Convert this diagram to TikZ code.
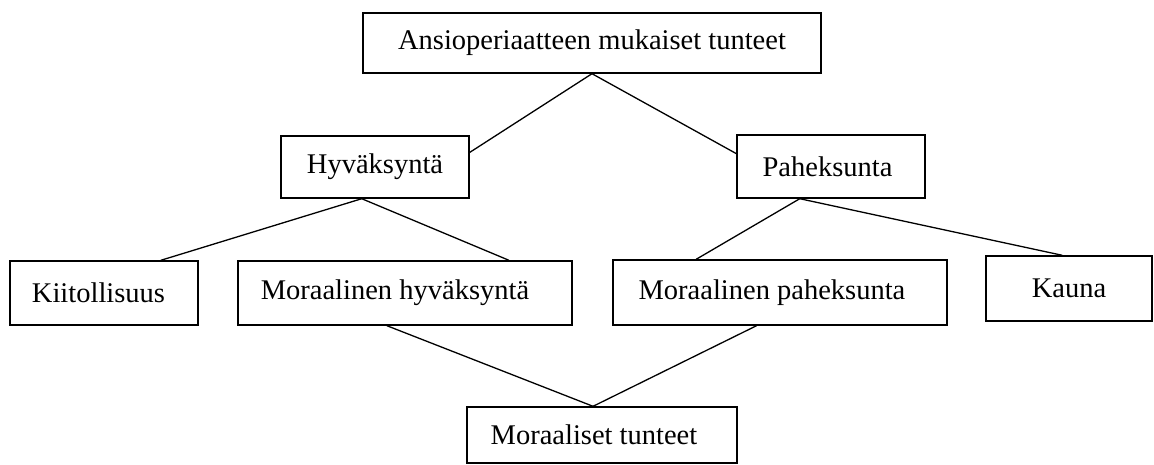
\documentclass[tikz,border=0pt]{standalone}
\usepackage{fontspec}
\setmainfont{Liberation Serif}
\usetikzlibrary{calc}
\begin{document}
\begin{tikzpicture}[x=1pt,y=-1pt,
  box/.style={draw, line width=1.4pt, inner sep=0pt, font=\fontsize{28.5}{34}\selectfont},
  conn/.style={line width=1.3pt}]
\useasboundingbox (0,0) rectangle (1154,464);
\clip (0,0) rectangle (1154,464);
\node[box, minimum width=458pt, minimum height=60pt] (top) at (592,43) {Ansioperiaatteen mukaiset tunteet};
\node[box, minimum width=188pt, minimum height=62pt] (hyv) at (375,167) {Hyväksyntä};
\node[box, minimum width=188pt, minimum height=63pt] (pah) at (831,166.5) {Paheksunta\hspace*{7pt}};
\node[box, minimum width=188pt, minimum height=64pt] (kiit) at (104,293) {Kiitollisuus\hspace*{11pt}};
\node[box, minimum width=334pt, minimum height=64pt] (mh) at (405,293) {Moraalinen hyväksyntä\hspace*{20pt}};
\node[box, minimum width=334pt, minimum height=65pt] (mp) at (780,292.5) {Moraalinen paheksunta\hspace*{16pt}};
\node[box, minimum width=166pt, minimum height=65pt] (kauna) at (1069,288.5) {Kauna};
\node[box, minimum width=270pt, minimum height=56pt] (mor) at (602,435) {Moraaliset tunteet\hspace*{16pt}};
% connectors
\draw[conn] (top.south) -- ($(hyv.north east)!0.27!(hyv.south east)$);
\draw[conn] (top.south) -- ($(pah.north west)!0.3!(pah.south west)$);
\draw[conn] ($(hyv.south west)!0.43!(hyv.south east)$) -- ($(kiit.north west)!0.8!(kiit.north east)$);
\draw[conn] ($(hyv.south west)!0.43!(hyv.south east)$) -- ($(mh.north west)!0.81!(mh.north east)$);
\draw[conn] ($(pah.south west)!0.335!(pah.south east)$) -- ($(mp.north west)!0.25!(mp.north east)$);
\draw[conn] ($(pah.south west)!0.335!(pah.south east)$) -- ($(kauna.north west)!0.46!(kauna.north east)$);
\draw[conn] ($(mh.south west)!0.446!(mh.south east)$) -- ($(mor.north west)!0.467!(mor.north east)$);
\draw[conn] ($(mp.south west)!0.43!(mp.south east)$) -- ($(mor.north west)!0.467!(mor.north east)$);
\end{tikzpicture}
\end{document}
